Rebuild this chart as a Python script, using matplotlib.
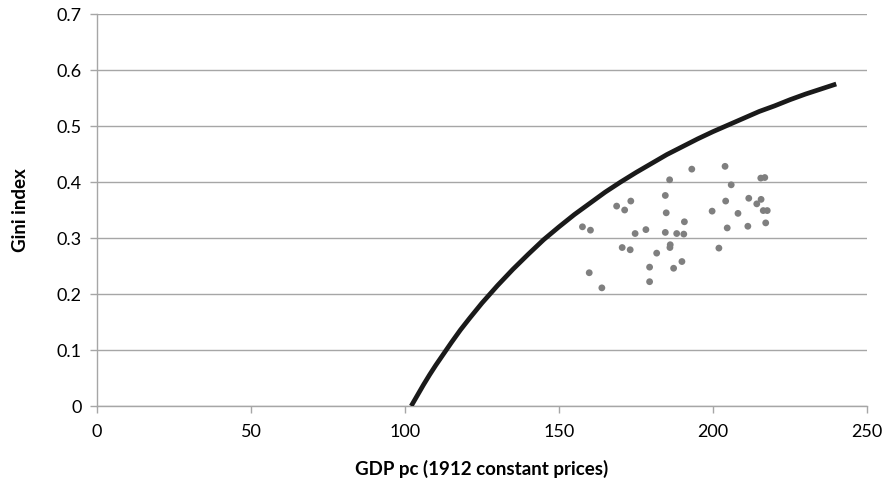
import matplotlib
matplotlib.use("Agg")
import matplotlib.pyplot as plt

plt.rcParams['font.family'] = ['Lato', 'DejaVu Sans']

# Frontier curve
curve_x = [102, 104, 106, 108, 110, 112, 115, 118, 121, 125, 130, 135, 140, 145,
           150, 155, 160, 165, 170, 175, 180, 185, 190, 195, 200, 205, 210, 215,
           220, 225, 230, 235, 240]
curve_y = [0.000, 0.019, 0.038, 0.056, 0.073, 0.089, 0.113, 0.136, 0.157, 0.184,
           0.215, 0.244, 0.271, 0.297, 0.320, 0.342, 0.362, 0.382, 0.400, 0.417,
           0.433, 0.449, 0.463, 0.477, 0.490, 0.502, 0.514, 0.526, 0.536, 0.547,
           0.557, 0.566, 0.575]

# Observations
obs_x = [193.1, 185.9, 184.5, 173.3, 168.7, 171.3, 184.8, 199.7, 190.7, 157.6,
         160.2, 178.2, 174.7, 184.5, 188.2, 190.5, 186.1, 186.0, 170.5, 173.1,
         201.9, 181.7, 179.4, 187.2, 189.9, 159.8, 179.4, 163.9,
         203.9, 215.5, 216.8, 205.9, 204.1, 211.6, 215.6, 214.2, 208.1, 216.3,
         217.6, 204.6, 211.3, 217.1]
obs_y = [0.423, 0.404, 0.376, 0.366, 0.357, 0.350, 0.345, 0.348, 0.329, 0.320,
         0.314, 0.315, 0.308, 0.310, 0.308, 0.307, 0.288, 0.283, 0.283, 0.279,
         0.282, 0.273, 0.248, 0.246, 0.258, 0.238, 0.222, 0.211,
         0.428, 0.407, 0.408, 0.395, 0.366, 0.371, 0.369, 0.361, 0.344, 0.349,
         0.349, 0.318, 0.321, 0.327]

x_ticks = [0, 50, 100, 150, 200, 250]
y_ticks = [0, 0.1, 0.2, 0.3, 0.4, 0.5, 0.6, 0.7]
y_tick_labels = ["0", "0.1", "0.2", "0.3", "0.4", "0.5", "0.6", "0.7"]

fig = plt.figure(figsize=(8.87, 4.90), dpi=100)
ax = fig.add_axes([0.1094, 0.1714, 0.8681, 0.80])

ax.set_xlim(0, 250)
ax.set_ylim(0, 0.7)
ax.set_xticks(x_ticks)
ax.set_yticks(y_ticks)
ax.set_yticklabels(y_tick_labels)

ax.grid(axis='y', color='#a6a6a6', linewidth=1.0)
ax.set_axisbelow(True)
for s in ['top', 'right']:
    ax.spines[s].set_visible(False)
for s in ['left', 'bottom']:
    ax.spines[s].set_color('#a6a6a6')
    ax.spines[s].set_linewidth(1.0)

ax.tick_params(axis='both', colors='#a6a6a6', labelcolor='#000000', labelsize=13, length=5, width=1)
ax.tick_params(axis='x', pad=8)
ax.tick_params(axis='y', pad=6)

ax.scatter(obs_x, obs_y, s=24, color='#7f7f7f', edgecolors='none', zorder=3)
ax.plot(curve_x, curve_y, color='#1a1a1a', linewidth=3.4, solid_capstyle='butt',
        solid_joinstyle='round', zorder=4)

ax.set_xlabel("GDP pc (1912 constant prices)", fontsize=13.5, fontweight='bold', labelpad=14)
ax.set_ylabel("Gini index", fontsize=13.5, fontweight='bold', labelpad=20)

fig.savefig("out.png", dpi=100)
